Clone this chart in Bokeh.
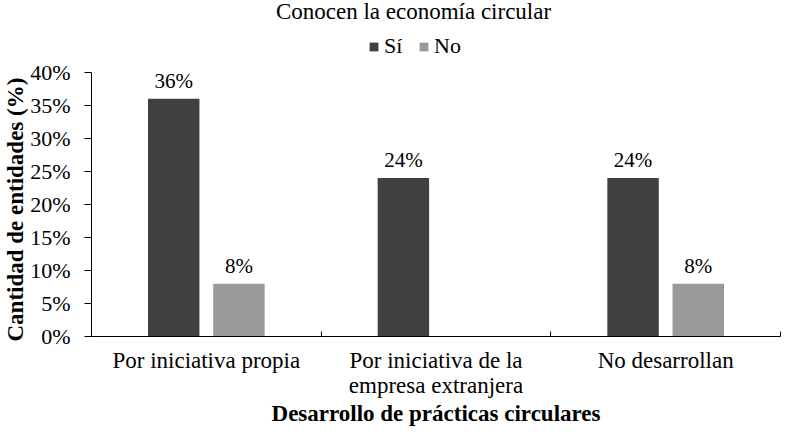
from bokeh.plotting import figure
from bokeh.models import (ColumnDataSource, Range1d, FixedTicker, PrintfTickFormatter,
                          Legend, LegendItem, Title, Label)
from bokeh.core.properties import value
from bokeh.embed import file_html
from bokeh.resources import INLINE

# ---- data ----
categories = ["Por iniciativa propia", "Por iniciativa de la\nempresa extranjera", "No desarrollan"]
si_values = [36, 24, 24]
no_values = [8, None, 8]
series_names = ["Sí", "No"]
y_ticks = [0, 5, 10, 15, 20, 25, 30, 35, 40]
y_max = 40
title_text = "Conocen la economía circular"
x_title = "Desarrollo de prácticas circulares"
y_title = "Cantidad de entidades (%)"

FONT = "Liberation Serif"
SI_COLOR = "#404040"
NO_COLOR = "#999999"

# layout (pixels)
W, H = 781, 428
BORDER_LEFT, BORDER_RIGHT, BORDER_BOTTOM = 89, 1, 91
AXIS_TOP_PX = 72          # where the 40% level sits from the top of the canvas
frame_h = H - BORDER_BOTTOM
y_end = y_max * frame_h / (frame_h - AXIS_TOP_PX)   # frame extends to canvas top

p = figure(width=W, height=H, output_backend="svg", toolbar_location=None, title=None,
           x_range=Range1d(0, len(categories)), y_range=Range1d(0, y_end),
           min_border_left=BORDER_LEFT, min_border_right=BORDER_RIGHT,
           min_border_top=0, min_border_bottom=BORDER_BOTTOM)
p.outline_line_color = None
p.grid.visible = False
p.background_fill_color = "white"

centers = [i + 0.5 for i in range(len(categories))]
offset = 0.142
bw = 0.224

si_src = ColumnDataSource(dict(x=[c - offset for c in centers], top=si_values,
                               lbl=[f"{v}%" for v in si_values]))
no_pairs = [(c + offset, v) for c, v in zip(centers, no_values) if v is not None]
no_src = ColumnDataSource(dict(x=[a for a, _ in no_pairs], top=[b for _, b in no_pairs],
                               lbl=[f"{b}%" for _, b in no_pairs]))

r_si = p.vbar(x="x", top="top", bottom=0, width=bw, source=si_src,
              fill_color=SI_COLOR, line_color=None)
r_no = p.vbar(x="x", top="top", bottom=0, width=bw, source=no_src,
              fill_color=NO_COLOR, line_color=None)

for src in (si_src, no_src):
    p.text(x="x", y="top", text="lbl", source=src, text_align="center",
           text_baseline="alphabetic", y_offset=-18, text_font=value(FONT),
           text_font_size="21px", text_color="black")

# y axis
ya = p.yaxis[0]
ya.bounds = (0, y_max)
ya.ticker = FixedTicker(ticks=y_ticks)
ya.formatter = PrintfTickFormatter(format="%d%%")
ya.major_tick_out = 7
ya.major_tick_in = 0
ya.minor_tick_out = 0
ya.minor_tick_in = 0
ya.axis_line_color = "black"
ya.major_tick_line_color = "black"
ya.major_label_standoff = 14
ya.major_label_text_font = FONT
ya.major_label_text_font_size = "22px"
ya.major_label_text_color = "black"

# y title as a side-panel title (reads bottom to top)
p.add_layout(Title(text=y_title, align="left", offset=-5, standoff=0,
                   text_font=FONT, text_font_size="23px", text_font_style="bold",
                   text_color="black"), "left")

# x axis
xa = p.xaxis[0]
xa.ticker = FixedTicker(ticks=centers, minor_ticks=list(range(len(categories) + 1)))
xa.major_label_overrides = {c: lab for c, lab in zip(centers, categories)}
xa.major_tick_in = 0
xa.major_tick_out = 0
xa.minor_tick_in = 5
xa.minor_tick_out = 0
xa.minor_tick_line_color = "black"
xa.axis_line_color = "black"
xa.major_label_standoff = 11
xa.major_label_text_font = FONT
xa.major_label_text_font_size = "23px"
xa.major_label_text_line_height = 1.0
xa.major_label_text_color = "black"
xa.axis_label = x_title
xa.axis_label_text_font = FONT
xa.axis_label_text_font_size = "23px"
xa.axis_label_text_font_style = "bold"
xa.axis_label_text_line_height = 0.8
xa.axis_label_text_color = "black"
xa.axis_label_standoff = 0

# chart title (inside the extended frame, screen units from frame bottom-left)
p.add_layout(Label(x=322, y=frame_h - 12, x_units="screen", y_units="screen",
                   text=title_text, text_align="center", text_baseline="alphabetic",
                   text_font=FONT, text_font_size="23px", text_color="black"))

legend = Legend(items=[LegendItem(label=series_names[0], renderers=[r_si]),
                       LegendItem(label=series_names[1], renderers=[r_no])],
                location=(277, frame_h - 60), orientation="horizontal",
                glyph_width=11, glyph_height=11, label_standoff=5, spacing=14,
                padding=0, margin=0, border_line_color=None, background_fill_alpha=0,
                label_text_font=FONT, label_text_font_size="22px", label_text_color="black")
p.add_layout(legend, "center")

open("out.html", "w").write(file_html(p, INLINE))
